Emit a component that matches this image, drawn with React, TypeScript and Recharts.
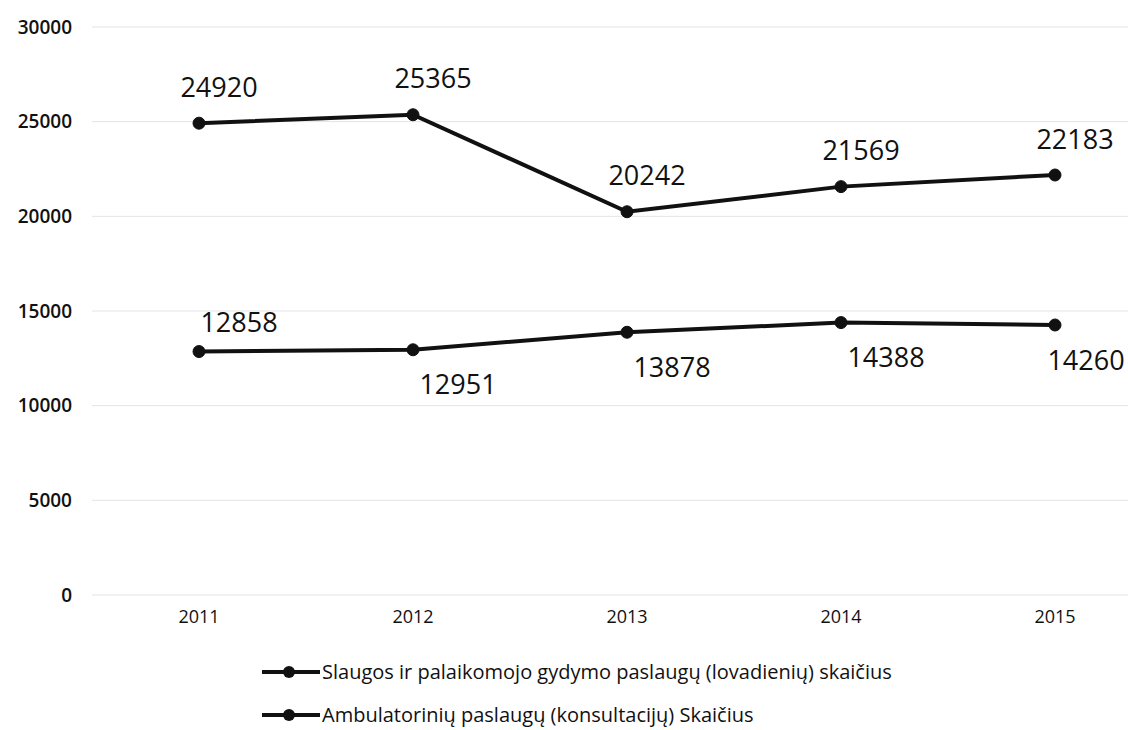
import React from "react";
import { LineChart, Line, XAxis, YAxis, CartesianGrid, Legend, LabelList } from "recharts";

const years = ["2011", "2012", "2013", "2014", "2015"];
const slaugos = [24920, 25365, 20242, 21569, 22183];
const ambulatoriniu = [12858, 12951, 13878, 14388, 14260];
const yTicks = [0, 5000, 10000, 15000, 20000, 25000, 30000];
const seriesNames = [
  "Slaugos ir palaikomojo gydymo paslaugų (lovadienių) skaičius",
  "Ambulatorinių paslaugų (konsultacijų) Skaičius",
];

const data = years.map((y, i) => ({ year: y, s1: slaugos[i], s2: ambulatoriniu[i] }));

const FONT = "'Open Sans', sans-serif";
const CHART_W = 1128;

const UpperLabel = (props: any) => {
  const { x, y, value } = props;
  return (
    <text x={x + 20} y={y - 37} textAnchor="middle" dominantBaseline="central" fontSize={27} fontFamily={FONT} fill="#111">
      {value}
    </text>
  );
};

const LowerLabel = (props: any) => {
  const { x, y, value, index } = props;
  const above = index === 0;
  const cx = Math.min(x + (above ? 40 : 45), CHART_W - 42);
  return (
    <text
      x={cx}
      y={y + (above ? -30 : 34)}
      textAnchor="middle"
      dominantBaseline="central"
      fontSize={27}
      fontFamily={FONT}
      fill="#111"
    >
      {value}
    </text>
  );
};

const CustomLegend = () => (
  <div style={{ fontFamily: FONT, fontSize: 20, color: "#111" }}>
    {seriesNames.map((n, i) => (
      <div key={i} style={{ display: "flex", alignItems: "center", height: 43 }}>
        <svg width={58} height={16} style={{ marginRight: 2 }}>
          <line x1={0} y1={8} x2={58} y2={8} stroke="#111" strokeWidth={4} />
          <circle cx={27} cy={8} r={6} fill="#111" />
        </svg>
        <span>{n}</span>
      </div>
    ))}
  </div>
);

export default function App() {
  return (
    <div style={{ position: "absolute", left: 0, top: 0, width: 1128, height: 730, background: "#fff" }}>
      <LineChart width={CHART_W} height={730} data={data} margin={{ top: 27, right: 0, bottom: 19, left: 0 }}>
        <CartesianGrid vertical={false} stroke="#e4e4e4" strokeWidth={1} />
        <XAxis
          dataKey="year"
          padding={{ left: 107, right: 73 }}
          axisLine={false}
          tickLine={false}
          tickSize={0}
          tickMargin={15}
          tick={{ fontSize: 18, fontFamily: FONT, fill: "#111" }}
        />
        <YAxis
          width={92}
          domain={[0, 30000]}
          ticks={yTicks}
          axisLine={false}
          tickLine={false}
          tickSize={0}
          tickMargin={20}
          tick={{ fontSize: 19, fontWeight: 600, fontFamily: FONT, fill: "#111" }}
        />
        <Legend
          verticalAlign="bottom"
          content={<CustomLegend />}
          wrapperStyle={{ left: 262, top: 650, width: 800, height: 86, bottom: "auto" }}
        />
        <Line
          dataKey="s1"
          name={seriesNames[0]}
          stroke="#111"
          strokeWidth={4}
          dot={{ r: 6, fill: "#111", stroke: "#111", strokeWidth: 1 }}
          isAnimationActive={false}
        >
          <LabelList dataKey="s1" content={<UpperLabel />} />
        </Line>
        <Line
          dataKey="s2"
          name={seriesNames[1]}
          stroke="#111"
          strokeWidth={4}
          dot={{ r: 6, fill: "#111", stroke: "#111", strokeWidth: 1 }}
          isAnimationActive={false}
        >
          <LabelList dataKey="s2" content={<LowerLabel />} />
        </Line>
      </LineChart>
    </div>
  );
}
